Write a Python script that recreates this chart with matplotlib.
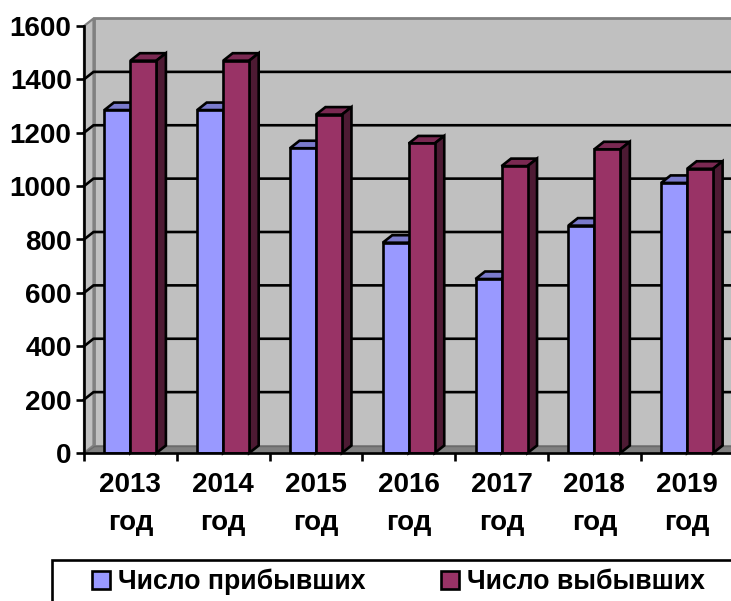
import matplotlib
matplotlib.use("Agg")
import matplotlib.pyplot as plt
from matplotlib.patches import Polygon, Rectangle
from matplotlib.ticker import MultipleLocator

plt.rcParams['font.family'] = ['Liberation Sans', 'DejaVu Sans']
plt.rcParams['font.weight'] = 'bold'

years = ["2013\nгод", "2014\nгод", "2015\nгод", "2016\nгод", "2017\nгод", "2018\nгод", "2019\nгод"]
arrived = [1285, 1285, 1142, 788, 652, 852, 1012]
departed = [1470, 1470, 1268, 1160, 1075, 1138, 1065]
series_names = ["Число прибывших", "Число выбывших"]

W, H = 731, 601
fig = plt.figure(figsize=(W / 100, H / 100), dpi=100, facecolor='white')
X0, X1, Y0, Y1 = 84, 733.5, 453, 26
ax = fig.add_axes([X0 / W, 1 - Y0 / H, (X1 - X0) / W, (Y0 - Y1) / H])
ax.set_xlim(0, 7)
ax.set_ylim(0, 1600)
ax.patch.set_visible(False)
for s in ['top', 'right']:
    ax.spines[s].set_visible(False)
LW = 1.9
for s in ['left', 'bottom']:
    ax.spines[s].set_linewidth(LW)
    ax.spines[s].set_zorder(6)

px_x = 7 / (X1 - X0)
px_y = 1600 / (Y0 - Y1)
dx = 9.5 * px_x          # depth offset
dy = 7.5 * px_y
ymax = 1600
xmax = 7.1

# walls and floor
kw = dict(clip_on=False, joinstyle='miter')
ax.add_patch(Polygon([(dx, dy), (xmax, dy), (xmax, ymax + dy), (dx, ymax + dy)],
                     fc='#C0C0C0', ec='#808080', lw=2.0, zorder=1, **kw))
ax.add_patch(Polygon([(0, 0), (dx, dy), (dx, ymax + dy), (0, ymax)],
                     fc='#C0C0C0', ec='#808080', lw=1.6, zorder=1.1, **kw))
ax.add_patch(Polygon([(0, 0), (xmax, 0), (xmax, dy), (dx, dy)],
                     fc='#808080', ec='#6a6a6a', lw=1.0, zorder=1.2, **kw))

# gridlines on side wall and back wall
for v in range(200, 1600, 200):
    ax.plot([0, dx, xmax], [v, v + dy, v + dy], color='black', lw=LW, zorder=2, clip_on=False)


def bar3d(x, w, v, front, top, side, z):
    ax.bar(x, v, w, align='edge', color=front, edgecolor='black', linewidth=LW, zorder=z + 0.2)
    ax.add_patch(Polygon([(x, v), (x + dx, v + dy), (x + w + dx, v + dy), (x + w, v)],
                         fc=top, ec='black', lw=LW, zorder=z, **kw))
    ax.add_patch(Polygon([(x + w, 0), (x + w + dx, dy), (x + w + dx, v + dy), (x + w, v)],
                         fc=side, ec='black', lw=LW, zorder=z, **kw))


bw = 26 * px_x
for i, (a, d) in enumerate(zip(arrived, departed)):
    bar3d(i + 0.5 - bw, bw, a, '#9999FF', '#7A7ACC', '#4D4D80', 3)
    bar3d(i + 0.5, bw, d, '#993366', '#7A2952', '#4D1A33', 4)

ax.yaxis.set_major_locator(MultipleLocator(200))
ax.set_xticks(range(0, 8))
ax.set_xticklabels([''] * 8)
ax.set_xticks([i + 0.5 for i in range(7)], minor=True)
ax.set_xticklabels(years, minor=True, fontsize=20, fontweight='bold', linespacing=1.6)
ax.tick_params(axis='x', which='minor', length=0, pad=14)
ax.tick_params(axis='x', which='major', length=6, width=LW, direction='out')
ax.tick_params(axis='y', length=6, width=LW, pad=3, labelsize=20)

# legend
fig.add_artist(Rectangle((52 / W, -0.02), 0.98, 1 - 560 / H + 0.02, transform=fig.transFigure,
                         fc='white', ec='black', lw=LW))
hs = [Rectangle((0, 0), 1, 1, fc='#9999FF', ec='black', lw=LW),
      Rectangle((0, 0), 1, 1, fc='#993366', ec='black', lw=LW)]
fig.legend(hs, series_names, loc='center left', bbox_to_anchor=(92 / W, 1 - 582 / H),
           ncols=2, frameon=False, borderpad=0, borderaxespad=0,
           handlelength=0.67, handleheight=0.67, handletextpad=0.3, columnspacing=2.85,
           prop={'size': 19.2, 'weight': 'bold'})

fig.savefig('out.png', dpi=100, facecolor='white')
